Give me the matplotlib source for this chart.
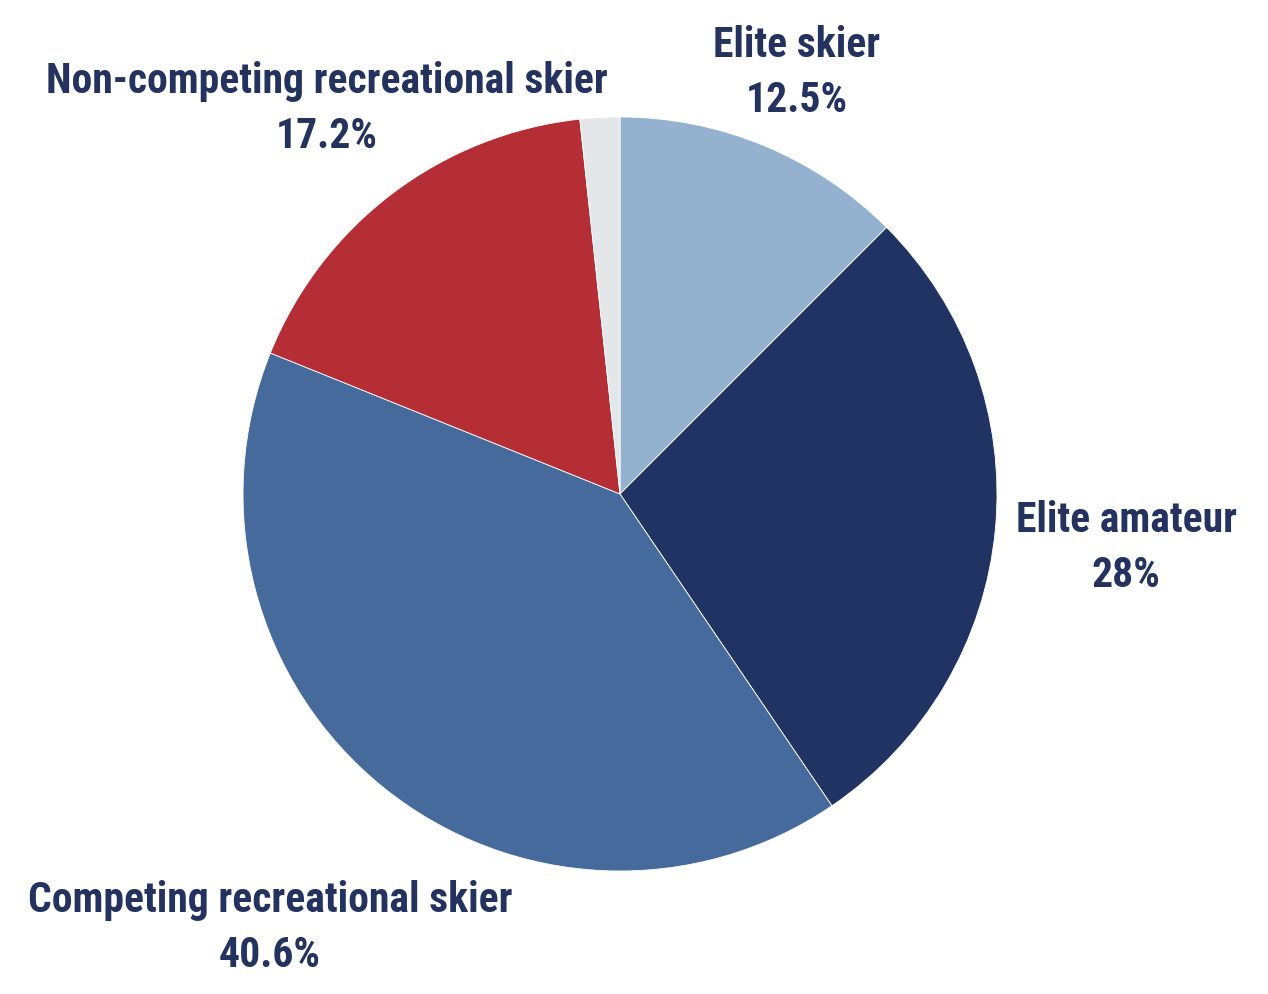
import matplotlib
matplotlib.use("Agg")
import matplotlib.pyplot as plt
from matplotlib import font_manager as fm

categories = ["Elite skier", "Elite amateur", "Competing recreational skier",
              "Non-competing recreational skier", "Other"]
values = [12.5, 28.0, 40.6, 17.2, 1.7]
value_labels = ["12.5%", "28%", "40.6%", "17.2%", ""]
colors = ["#94B2CF", "#213362", "#476A9D", "#B52E35", "#E3E7E9"]
text_color = "#23325F"

# choose a condensed bold font if available
names = {f.name for f in fm.fontManager.ttflist}
stretch = "normal"
family = "Roboto"
fsize = 26
for cand in ["Roboto Condensed", "Liberation Sans Narrow", "Open Sans Condensed"]:
    if cand in names:
        family = cand
        fsize = 30
        break
else:
    cond = [f for f in fm.fontManager.ttflist
            if f.name == "DejaVu Sans" and "ondensed" in f.fname and "Bold" in f.fname]
    if cond:
        family = "DejaVu Sans"
        stretch = "condensed"
        fsize = 28

fig = plt.figure(figsize=(12.68, 9.95), dpi=100)
ax = fig.add_axes([0, 0, 1, 1])

ax.pie(values, colors=colors, startangle=90, counterclock=False,
       center=(620, 500), radius=377,
       wedgeprops=dict(edgecolor="white", linewidth=0.6), frame=True)
ax.set_xlim(0, 1268)
ax.set_ylim(0, 995)
ax.set_aspect("equal")
ax.axis("off")

label_pos = [(797, 922), (1126, 447), (270, 67), (327, 886)]
for (x, y), cat, val in zip(label_pos, categories[:4], value_labels[:4]):
    ax.text(x, y, cat + "\n" + val, ha="center", va="center",
            fontsize=fsize, fontweight="bold", family=family, fontstretch=stretch,
            color=text_color, linespacing=1.45)

fig.savefig("out.png", dpi=100)
